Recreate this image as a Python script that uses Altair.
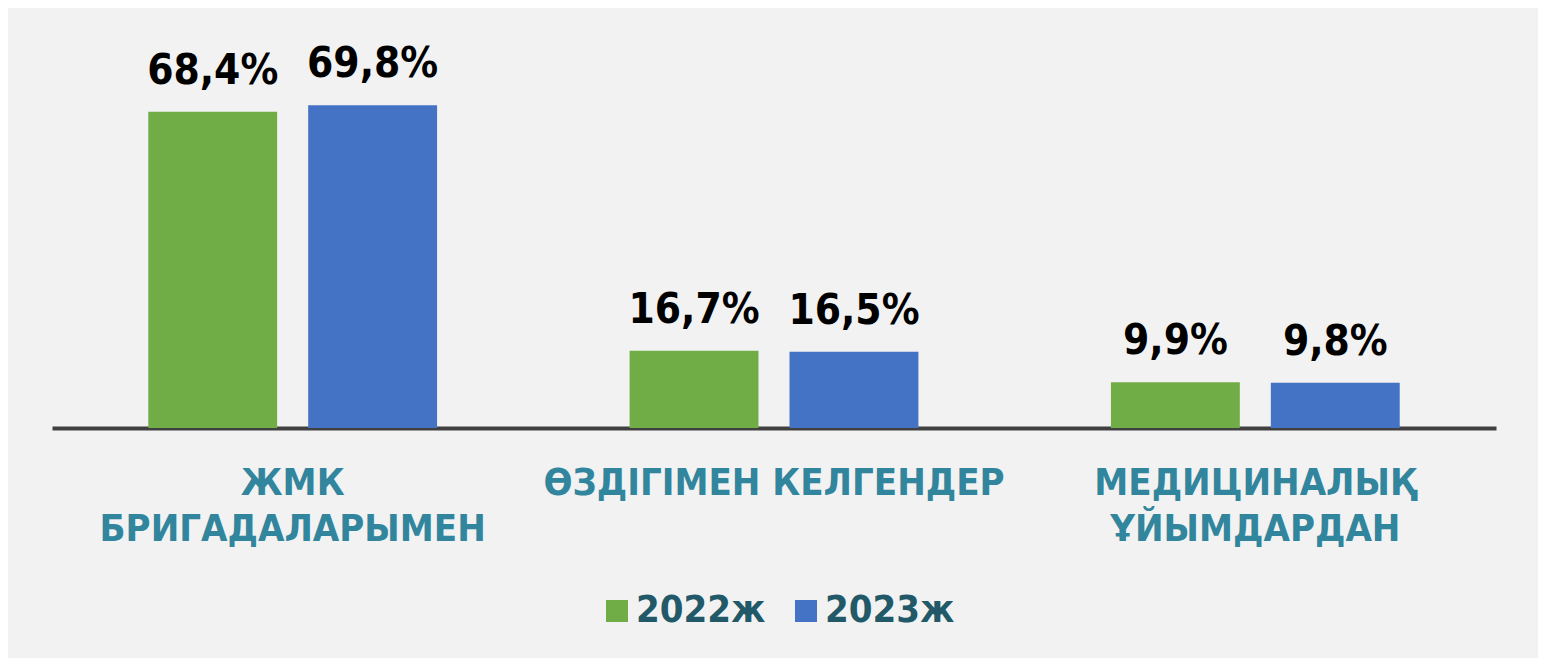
import altair as alt
import pandas as pd

categories = ["ЖМК\nБРИГАДАЛАРЫМЕН", "ӨЗДІГІМЕН КЕЛГЕНДЕР", "МЕДИЦИНАЛЫҚ\nҰЙЫМДАРДАН"]
years = ["2022ж", "2023ж"]
values_2022 = [68.4, 16.7, 9.9]
values_2023 = [69.8, 16.5, 9.8]
colors = ["#70AD47", "#4472C4"]

rows = []
for c, a, b in zip(categories, values_2022, values_2023):
    rows.append({"cat": c, "year": years[0], "val": a, "lbl": f"{a:.1f}%".replace(".", ",")})
    rows.append({"cat": c, "year": years[1], "val": b, "lbl": f"{b:.1f}%".replace(".", ",")})
df = pd.DataFrame(rows)

FONT = "'DejaVu Sans Condensed', 'DejaVu Sans'"

x = alt.X("cat:N", sort=categories,
          scale=alt.Scale(paddingInner=0.4, paddingOuter=0.2),
          axis=alt.Axis(title=None, labelAngle=0, ticks=False, domainColor="#404040",
                        domainWidth=4, labelFont=FONT, labelFontSize=38, labelFontWeight="bold",
                        labelColor="#31859C", labelPadding=36, labelLimit=700,
                        labelLineHeight=46, labelExpr="split(datum.label, '\\n')"))
xo = alt.XOffset("year:N", sort=years, scale=alt.Scale(paddingInner=0.194, paddingOuter=0))
y = alt.Y("val:Q", scale=alt.Scale(domain=[0, 88], nice=False), axis=None)

bars = alt.Chart(df).mark_bar().encode(
    x=x, xOffset=xo, y=y,
    color=alt.Color("year:N", sort=years, scale=alt.Scale(domain=years, range=colors),
                    legend=alt.Legend(title=None, orient="none", direction="horizontal",
                                      legendX=546, legendY=571, symbolType="square",
                                      symbolSize=484, symbolStrokeWidth=0, labelFont=FONT,
                                      labelFontSize=38, labelFontWeight="bold",
                                      labelColor="#215968", labelOffset=0, columnPadding=21,
                                      labelLimit=300)),
)
labels = alt.Chart(df).mark_text(font=FONT, fontSize=42, fontWeight="bold", color="#000000",
                                 baseline="alphabetic", dy=-28).encode(
    x=x, xOffset=xo, y=y, text="lbl:N")

chart = (bars + labels).properties(
    width=1444, height=407,
    padding={"left": 44, "top": 13, "right": 42, "bottom": 40},
    background="#F2F2F2",
).configure_view(stroke=None)

chart.save("out.html", embed_options={"renderer": "svg", "actions": False})
